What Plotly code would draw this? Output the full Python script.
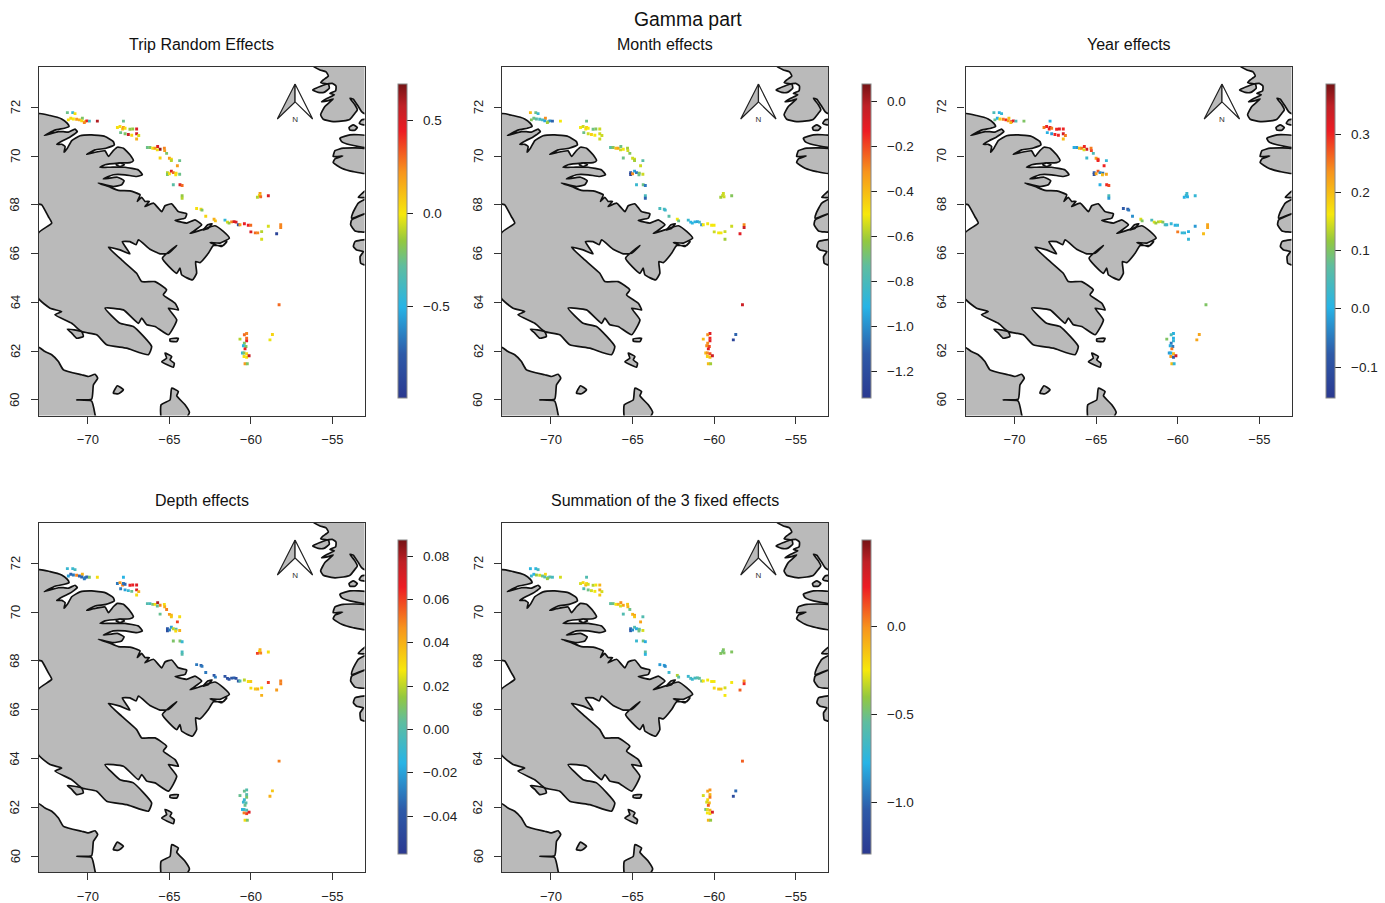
import plotly.graph_objects as go

W, H = 1385, 903

# ---------- titles ----------
main_title = "Gamma part"
panel_titles = ["Trip Random Effects", "Month effects", "Year effects",
                "Depth effects", "Summation of the 3 fixed effects"]

# ---------- axes ----------
lon_range = [-73.0, -53.03]
lat_range = [59.36, 73.65]
lon_ticks = [-70, -65, -60, -55]
lat_ticks = [60, 62, 64, 66, 68, 70, 72]

# ---------- colour scale ----------
colorscale = [[0.0, "#2b3990"], [0.14, "#2e5aa8"], [0.29, "#27b4e6"], [0.42, "#5fbd9f"],
              [0.5, "#93c83f"], [0.585, "#f6e80c"], [0.72, "#f7941d"], [0.85, "#ed1c24"],
              [0.93, "#bf2026"], [1.0, "#751315"]]

# colour bar ranges and ticks per panel
ranges = [(-0.987, 0.693), (-1.316, 0.08), (-0.153, 0.386), (-0.0575, 0.0874), (-1.297, 0.497)]
cbar_ticks = [[-0.5, 0.0, 0.5],
              [-1.2, -1.0, -0.8, -0.6, -0.4, -0.2, 0.0],
              [-0.1, 0.0, 0.1, 0.2, 0.3],
              [-0.04, -0.02, 0.0, 0.02, 0.04, 0.06, 0.08],
              [-1.0, -0.5, 0.0]]
cbar_decimals = [1, 1, 1, 2, 1]

# ---------- grid cell positions ----------
cell_lon = [
 -71.26,-70.93,-70.79,-71.20,-71.05,-70.89,-70.69,-70.52,-70.34,-70.38,-70.18,-70.07,-69.91,-70.22,-69.42,
 -67.82,-68.19,-68.03,-67.87,-67.82,-67.72,-67.42,-67.25,-67.01,-67.99,-67.72,-67.52,-67.31,-67.01,-66.88,-67.01,
 -66.35,-66.19,-66.02,-65.88,-65.72,-65.57,-65.74,-65.31,-65.29,-65.17,-65.57,-65.00,-64.88,-64.88,-64.37,-64.51,
 -65.12,-65.12,-65.00,-64.88,-64.76,-64.59,-64.61,-64.37,-64.76,-64.35,-64.22,-64.22,-64.22,
 -63.33,-63.06,-63.00,-62.77,-62.26,-62.18,-61.59,-61.44,-61.34,-61.18,-61.03,-60.91,-60.77,-60.67,-60.40,-60.16,-60.01,-60.00,-59.73,-59.58,-59.34,-58.93,-58.17,-58.17,-58.42,-59.34,
 -59.44,-59.48,-59.60,-59.40,-58.93,
 -58.27,-58.68,-58.83,-60.67,-60.26,-60.40,-60.26,-60.26,-60.40,-60.46,-60.30,-60.36,-60.52,-60.42,-60.26,-60.42,-60.26,-60.11,-60.36,-60.22]
cell_lat = [
 71.78,71.78,71.74,71.48,71.55,71.52,71.51,71.48,71.55,71.44,71.41,71.44,71.43,71.37,71.43,
 71.43,71.17,71.21,71.11,71.17,71.14,71.10,71.11,71.11,70.96,70.91,70.88,70.85,70.91,70.84,70.70,
 70.35,70.35,70.32,70.32,70.39,70.28,70.25,70.32,70.22,70.11,69.92,69.91,69.87,69.81,69.81,69.60,
 69.32,69.24,69.27,69.38,69.32,69.30,69.23,69.25,68.82,68.82,68.79,68.37,68.27,
 67.85,67.82,67.78,67.53,67.41,67.34,67.37,67.29,67.25,67.30,67.31,67.29,67.18,67.18,67.22,67.16,67.16,66.89,66.85,66.85,66.90,67.12,67.18,67.07,66.81,66.59,
 68.46,68.38,68.31,68.33,68.37,
 63.90,62.68,62.46,62.49,62.72,62.67,62.53,62.42,62.32,62.22,62.19,62.09,61.92,61.92,61.89,61.78,61.75,61.81,61.48,61.48]

# ---------- effect values per cell ----------
trip_effects = [
 -0.25,-0.45,0.02,0.02,0.05,0.0,0.2,0.15,-0.2,0.03,0.05,0.45,-0.4,0.25,0.6,
 -0.25,0.02,0.02,0.1,0.2,0.02,-0.15,-0.15,0.5,-0.25,-0.2,0.55,0.05,0.5,-0.05,0.15,
 -0.25,-0.2,0.02,0.2,0.5,0.65,0.02,0.25,0.2,-0.2,0.05,0.2,0.05,-0.1,-0.25,0.2,
 -0.1,-0.2,0.02,0.5,0.3,0.03,0.02,-0.25,-0.3,0.5,0.3,-0.15,-0.1,
 0.02,0.03,-0.2,0.05,0.15,0.1,-0.45,-0.05,-0.15,0.25,0.5,0.5,-0.85,0.2,0.45,0.45,0.3,0.5,0.3,0.25,-0.1,-0.05,0.25,0.25,-0.9,-0.05,
 0.2,0.05,-0.1,0.3,0.5,
 0.3,0.05,-0.02,-0.1,0.25,0.3,0.3,0.45,-0.2,-0.5,-0.2,0.45,-0.45,-0.2,0.05,0.02,0.02,0.55,0.2,-0.2]
month_effects = [
 -0.4,-0.7,-0.85,-0.65,-0.7,-0.75,-0.8,-0.8,-0.3,-0.95,-0.7,-1.0,-1.1,-0.6,-0.5,
 -0.7,-0.5,-0.55,-0.5,-0.45,-0.5,-0.7,-0.65,-0.55,-0.7,-0.55,-0.45,-0.5,-0.55,-0.55,-0.55,
 -0.75,-0.65,-0.4,-0.35,-0.7,-0.5,-0.55,-0.6,-0.55,-0.65,-0.7,-0.55,-0.55,-0.6,-0.75,-0.55,
 -1.15,-1.25,-0.3,-0.95,-1.05,-0.65,-0.7,-0.55,-0.85,-0.7,-1.05,-0.8,-1.1,
 -0.8,-0.8,-0.85,-0.75,-0.5,-0.7,-0.85,-0.9,-0.9,-0.9,-0.95,-0.85,-1.0,-0.5,-0.5,-0.5,-0.5,-0.55,-0.5,-0.5,-0.55,-0.55,-0.3,-0.05,-0.1,-0.6,
 -0.55,-0.55,-0.6,-0.55,-0.65,
 -0.05,-1.1,-1.25,-0.4,-0.1,-0.3,-0.15,-0.1,-0.3,-0.3,-0.2,-0.1,-0.4,-0.3,-0.2,-0.45,-0.4,-0.05,-0.4,-0.6]
year_effects = [
 0.05,0.0,0.02,0.08,0.0,0.18,0.25,0.3,0.2,0.23,0.3,0.32,0.05,0.2,0.1,
 0.0,0.25,0.3,0.3,0.32,0.25,0.3,0.32,0.3,0.0,-0.02,0.3,0.3,0.33,0.25,0.2,
 0.0,-0.02,0.2,0.25,0.3,0.33,0.15,0.25,0.28,0.05,0.03,0.22,0.28,0.3,0.02,0.3,
 -0.08,-0.1,0.22,0.27,-0.03,-0.06,0.2,0.22,0.0,0.3,0.28,0.05,-0.02,
 -0.08,-0.08,-0.05,-0.03,0.15,0.1,0.05,0.15,0.12,0.13,0.15,0.1,0.05,0.03,0.02,0.0,0.02,0.25,0.02,0.02,0.0,-0.02,0.22,0.22,0.2,0.02,
 0.03,0.03,0.0,0.0,0.02,
 0.1,0.22,0.22,0.1,0.0,0.05,0.0,0.02,-0.05,0.0,-0.05,0.25,-0.02,0.0,0.2,0.23,-0.08,0.33,0.2,0.02]
depth_effects = [
 -0.01,-0.01,-0.005,-0.02,-0.035,-0.03,0.05,-0.035,0.04,-0.035,-0.03,-0.035,0.01,-0.03,0.03,
 -0.015,-0.03,0.045,0.05,-0.03,-0.035,0.065,0.065,0.07,-0.03,-0.02,-0.01,0.005,0.07,0.04,0.03,
 0.0,-0.005,0.01,0.03,0.08,0.05,0.005,0.03,0.04,0.05,0.005,0.045,0.04,0.035,0.03,0.06,
 -0.04,-0.045,-0.03,-0.02,0.02,0.0,0.03,0.04,0.01,0.01,-0.01,-0.005,0.0,
 -0.03,-0.035,-0.03,-0.03,-0.04,-0.03,-0.04,-0.045,-0.04,-0.04,-0.035,-0.045,-0.04,0.0,0.02,0.03,0.035,0.03,0.035,0.04,0.03,0.06,0.05,0.05,0.045,0.04,
 0.04,0.03,0.06,0.05,0.03,
 0.05,0.035,0.04,0.005,0.0,0.005,0.0,0.01,-0.01,-0.01,0.0,0.005,-0.015,-0.01,0.0,0.05,0.06,0.07,0.03,0.01]
sum_effects = [
 -0.75,-0.75,-0.65,-0.7,-0.75,-0.4,-0.3,-0.5,-0.2,-0.6,-0.6,-0.55,-0.65,-0.4,-0.3,
 -0.6,-0.3,-0.2,-0.1,-0.2,-0.3,-0.35,-0.25,-0.1,-0.6,-0.5,-0.3,-0.25,-0.05,-0.3,-0.15,
 -0.55,-0.5,-0.25,-0.1,0.0,-0.05,-0.3,-0.15,-0.1,-0.5,-0.6,-0.1,-0.05,-0.15,-0.6,-0.05,
 -1.0,-1.05,-0.9,-0.6,-0.8,-0.55,-0.5,-0.3,-0.7,-0.5,-0.8,-0.55,-0.75,
 -0.85,-0.85,-0.9,-0.7,-0.35,-0.55,-0.7,-0.65,-0.7,-0.65,-0.6,-0.55,-0.5,-0.25,-0.25,-0.25,-0.25,-0.2,-0.15,-0.15,-0.3,-0.25,0.0,0.2,0.1,-0.25,
 -0.45,-0.5,-0.45,-0.45,-0.45,
 0.1,-1.0,-1.15,-0.3,0.0,-0.05,-0.1,0.05,-0.2,-0.3,-0.1,0.1,-0.5,-0.3,-0.1,-0.25,-0.2,0.3,-0.1,-0.4]
panel_values = [trip_effects, month_effects, year_effects, depth_effects, sum_effects]

# ---------- coastlines (lon, lat) ----------
baffin = [(-73.04,71.73),(-72.32,71.66),(-71.61,71.52),(-71.26,71.34),(-71.16,71.21),(-71.44,71.14),(-72.02,71.06),
 (-72.67,70.84),(-72.22,70.93),(-71.81,71.00),(-71.51,71.00),(-71.20,70.98),(-70.79,71.10),(-70.65,71.00),(-70.89,70.87),
 (-71.14,70.76),(-71.55,70.63),(-71.91,70.48),(-71.61,70.48),(-71.40,70.39),(-71.46,70.16),(-71.26,70.32),(-70.99,70.63),
 (-70.48,70.83),(-69.77,70.87),(-68.95,70.80),(-68.44,70.59),(-68.38,70.46),(-68.89,70.32),(-69.56,70.25),(-70.07,70.07),
 (-69.66,70.14),(-68.95,70.21),(-68.74,69.98),(-68.44,70.22),(-68.19,70.36),(-67.82,70.32),(-67.42,70.05),(-67.21,69.81),
 (-67.42,69.73),(-68.13,69.71),(-68.95,69.64),(-69.26,69.54),(-68.64,69.54),(-67.72,69.54),(-66.90,69.43),(-66.66,69.23),
 (-67.01,69.16),(-67.72,69.23),(-68.44,69.23),(-69.05,69.06),(-68.19,69.13),(-67.78,68.99),(-67.93,68.82),(-68.44,68.75),
 (-69.36,68.89),(-68.74,68.75),(-68.13,68.59),(-67.42,68.57),(-66.80,68.41),(-66.97,68.14),(-66.70,68.31),(-66.50,68.14),
 (-66.23,68.14),(-66.50,67.93),(-65.98,68.07),(-65.47,67.72),(-65.27,67.96),(-64.86,68.04),(-64.45,67.72),(-63.94,67.63),
 (-64.04,67.45),(-64.65,67.36),(-63.94,67.25),(-63.43,67.38),(-63.02,67.18),(-63.53,66.91),(-63.73,66.82),(-63.02,66.97),
 (-62.20,67.14),(-61.69,66.91),(-61.32,66.63),(-61.89,66.43),(-62.50,66.45),(-61.79,66.29),(-61.48,66.49),(-61.69,66.33),
 (-62.30,66.33),(-62.61,66.01),(-63.12,65.63),(-63.39,65.67),(-63.33,65.19),(-63.59,64.92),(-64.25,65.13),(-64.35,65.40),
 (-64.55,65.19),(-65.43,65.81),(-64.55,66.33),(-65.06,66.01),(-65.57,65.99),(-66.19,66.18),(-66.90,66.56),(-67.05,66.36),
 (-67.42,66.49),(-67.89,66.49),(-67.42,65.99),(-68.03,66.15),(-68.74,66.26),(-67.93,65.74),(-67.01,65.19),(-66.70,64.85),
 (-65.88,64.85),(-65.17,64.51),(-65.37,64.31),(-64.65,63.96),(-64.45,63.69),(-65.06,63.76),(-64.55,63.28),(-65.06,62.67),
 (-65.88,63.01),(-66.39,63.08),(-66.70,63.35),(-66.90,63.14),(-67.82,63.69),(-68.95,63.76),(-68.03,63.14),(-67.21,63.01),
 (-66.09,62.19),(-66.29,61.85),(-67.62,62.12),(-68.85,62.26),(-69.46,62.67),(-70.38,62.80),(-70.99,63.14),(-72.02,63.49),
 (-71.61,63.62),(-72.32,63.76),(-73.04,64.17),(-73.04,66.84),(-72.22,67.25),(-72.43,67.52),(-72.83,68.00),(-73.04,68.04)]
ungava = [(-73.04,62.16),(-72.63,61.98),(-72.22,61.85),(-71.81,61.57),(-71.50,61.23),(-70.38,61.03),(-69.97,60.96),(-69.56,61.05),
 (-69.40,60.89),(-69.66,60.62),(-69.77,60.03),(-70.69,60.00),(-69.77,59.95),(-69.56,59.39),(-69.50,59.2),(-73.04,59.2)]
isle_a = [(-71.26,62.90),(-70.38,62.80),(-70.28,62.60),(-70.69,62.53),(-70.99,62.74)]
isle_b = [(-64.96,62.50),(-64.45,62.53),(-64.55,62.39),(-64.96,62.41)]
isle_c = [(-65.27,61.92),(-64.86,61.78),(-64.96,61.64),(-64.70,61.50),(-64.76,61.34),(-65.47,61.57),(-65.17,61.71)]
isle_d = [(-68.44,60.28),(-68.19,60.58),(-67.82,60.41),(-68.13,60.25)]
isle_e = [(-62.92,66.97),(-62.65,67.18),(-62.38,67.22),(-62.61,67.04)]
south_cape = [(-65.47,59.2),(-65.51,59.80),(-64.96,60.00),(-64.86,60.48),(-64.45,60.34),(-64.55,60.17),(-64.04,59.80),(-63.77,59.48),(-64.04,59.2)]
greenland_n = [(-56.17,73.69),(-55.76,73.53),(-55.39,73.45),(-55.25,73.28),(-55.56,73.12),(-55.72,73.01),(-55.35,72.96),(-55.01,72.98),
 (-54.78,72.87),(-54.80,72.68),(-55.15,72.57),(-54.88,72.51),(-55.31,72.37),(-55.66,72.23),(-55.25,72.27),(-54.95,72.34),
 (-55.46,72.03),(-55.72,71.69),(-55.56,71.51),(-54.95,71.41),(-54.33,71.44),(-53.92,71.51),(-53.62,71.75),(-53.47,71.89),
 (-53.62,72.10),(-53.92,72.37),(-53.72,72.33),(-53.41,72.03),(-53.21,71.82),(-53.06,71.75),(-52.90,71.75),(-52.90,73.80),(-56.17,73.80)]
greenland_arm = [(-56.21,72.71),(-55.76,72.85),(-55.25,72.96),(-55.19,72.78),(-55.52,72.61),(-55.87,72.61)]
greenland_a = [(-52.90,71.51),(-53.21,71.48),(-53.35,71.34),(-53.10,71.28),(-52.90,71.28)]
greenland_b = [(-53.98,71.17),(-53.72,71.28),(-53.47,71.17),(-53.62,71.06),(-53.92,71.06)]
greenland_c = [(-52.90,70.83),(-53.92,70.87),(-54.54,70.73),(-54.43,70.59),(-53.92,70.46),(-52.90,70.36)]
greenland_d = [(-52.90,70.28),(-54.33,70.32),(-54.84,70.22),(-54.95,69.98),(-54.37,70.00),(-54.84,69.88),(-54.95,69.73),(-54.43,69.50),(-53.72,69.36),(-52.90,69.29)]
greenland_e = [(-52.90,68.61),(-53.41,68.31),(-52.90,68.31)]
greenland_f = [(-52.90,68.23),(-53.41,68.07),(-53.75,67.66),(-53.82,67.45),(-52.90,67.66),(-53.82,67.38),(-53.88,67.18),(-53.61,66.93),(-52.90,66.90)]
greenland_g = [(-52.90,66.56),(-53.61,66.49),(-53.71,66.29),(-53.51,66.15),(-53.10,66.08),(-53.30,65.88),(-53.26,65.60),(-52.90,65.53)]
land_parts = [baffin, ungava, isle_a, isle_b, isle_c, isle_d, isle_e, south_cape, greenland_n, greenland_arm,
              greenland_a, greenland_b, greenland_c, greenland_d, greenland_e, greenland_f, greenland_g]
inlet_lake = [(-68.27,69.64),(-68.03,69.72),(-67.76,69.64),(-68.03,69.57)]

# ---------- north arrow (lon, lat) ----------
arrow_apex = (-57.29, 72.95)
arrow_left = (-58.38, 71.52)
arrow_right = (-56.21, 71.52)
arrow_mid = (-57.29, 72.22)
arrow_label = (-57.29, 71.48)

# ---------- pixel layout of the frames ----------
frames = [(39, 364.5, 67, 415.5), (502, 828, 67, 415.5), (965.5, 1291.5, 67, 415.5),
          (39, 364.5, 523, 872), (502, 828, 523, 872)]
bars = [(398, 84), (862, 84), (1326, 84), (398, 540), (862, 540)]
BAR_LEN = 314


def outline(parts):
    xs, ys = [], []
    for part in parts:
        xs += [p[0] for p in part] + [part[0][0], None]
        ys += [p[1] for p in part] + [part[0][1], None]
    return xs, ys


FONT = "Liberation Sans, Arial, Helvetica, sans-serif"
fig = go.Figure()
layout = {}
annotations = []
land_x, land_y = outline(land_parts)
lake_x, lake_y = outline([inlet_lake])
coast = dict(color="#111111", width=1.7, shape="spline", smoothing=0.45)

for i in range(5):
    sfx = "" if i == 0 else str(i + 1)
    xa, ya = "x" + sfx, "y" + sfx
    l, r, t, b = frames[i]
    common = dict(showgrid=False, zeroline=False, showline=True, mirror=True, linecolor="#333333",
                  linewidth=1.3, ticks="outside", ticklen=7, tickcolor="#333333", tickwidth=1.2,
                  tickfont=dict(family=FONT, size=13, color="#222222"))
    layout["xaxis" + sfx] = dict(domain=[l / W, r / W], range=lon_range, anchor=ya, tickvals=lon_ticks,
                                 ticklabelstandoff=5, **common)
    layout["yaxis" + sfx] = dict(domain=[1 - b / H, 1 - t / H], range=lat_range, anchor=xa, tickvals=lat_ticks,
                                 showticklabels=False, **common)
    for tick in lat_ticks:
        annotations.append(dict(x=(l - 24) / W, xref="paper", y=tick, yref=ya, text=str(tick), textangle=-90,
                                showarrow=False, xanchor="center", yanchor="middle",
                                font=dict(family=FONT, size=13, color="#222222")))
    fig.add_trace(go.Scatter(x=land_x, y=land_y, mode="lines", fill="toself", fillcolor="#bababa",
                             line=coast, xaxis=xa, yaxis=ya, showlegend=False, hoverinfo="skip"))
    fig.add_trace(go.Scatter(x=lake_x, y=lake_y, mode="lines", fill="toself", fillcolor="#ffffff",
                             line=coast, xaxis=xa, yaxis=ya, showlegend=False, hoverinfo="skip"))
    # north arrow
    for corner, fillc in ((arrow_left, "#bababa"), (arrow_right, "#ffffff")):
        tri = [arrow_apex, corner, arrow_mid, arrow_apex]
        fig.add_trace(go.Scatter(x=[p[0] for p in tri], y=[p[1] for p in tri], mode="lines", fill="toself",
                                 fillcolor=fillc, line=dict(color="#222222", width=1.2),
                                 xaxis=xa, yaxis=ya, showlegend=False, hoverinfo="skip"))
    fig.add_trace(go.Scatter(x=[arrow_label[0]], y=[arrow_label[1]], mode="text", text=["N"],
                             textfont=dict(family=FONT, size=8, color="#333333"),
                             xaxis=xa, yaxis=ya, showlegend=False, hoverinfo="skip"))
    # cells with colour bar
    bx, by = bars[i]
    vmin, vmax = ranges[i]
    fig.add_trace(go.Scatter(
        x=cell_lon, y=cell_lat, mode="markers", xaxis=xa, yaxis=ya, showlegend=False, hoverinfo="skip",
        marker=dict(symbol="square", size=2.9, color=panel_values[i], cmin=vmin, cmax=vmax,
                    colorscale=colorscale, line=dict(width=0),
                    colorbar=dict(x=bx / W, xanchor="left", xpad=0, y=1 - by / H, yanchor="top", ypad=0,
                                  thicknessmode="pixels", thickness=9, lenmode="pixels", len=BAR_LEN,
                                  outlinecolor="#888888", outlinewidth=1, ticks="outside", ticklen=6,
                                  tickwidth=1.2, tickcolor="#222222", tickvals=cbar_ticks[i],
                                  showticklabels=False))))
    # colour bar labels, placed from the same value scale as the bar
    for v in cbar_ticks[i]:
        label = f"{abs(v):.{cbar_decimals[i]}f}"
        if v < 0:
            label = "\u2212" + label
        py = by + (vmax - v) / (vmax - vmin) * BAR_LEN
        annotations.append(dict(x=(bx + 23) / W, y=1 - py / H, xref="paper", yref="paper", text=label,
                                showarrow=False, xanchor="left", yanchor="middle", xshift=0,
                                font=dict(family=FONT, size=13.5, color="#222222")))

annotations.append(dict(x=688 / W, y=1 - 19 / H, xref="paper", yref="paper", text=main_title, showarrow=False,
                        xanchor="center", yanchor="middle", font=dict(family=FONT, size=19.4, color="#111111")))
for i, title in enumerate(panel_titles):
    l, r, t, b = frames[i]
    annotations.append(dict(x=(l + r) / 2 / W, y=1 - (t - 23) / H, xref="paper", yref="paper", text=title,
                            showarrow=False, xanchor="center", yanchor="middle",
                            font=dict(family=FONT, size=16, color="#111111")))

fig.update_layout(width=W, height=H, margin=dict(l=0, r=0, t=0, b=0), paper_bgcolor="white",
                  plot_bgcolor="white", hovermode=False, showlegend=False, annotations=annotations, **layout)
fig.write_html("out.html", config={"displayModeBar": False},
               post_script="document.body.style.margin='0';document.documentElement.style.overflow='hidden';")
